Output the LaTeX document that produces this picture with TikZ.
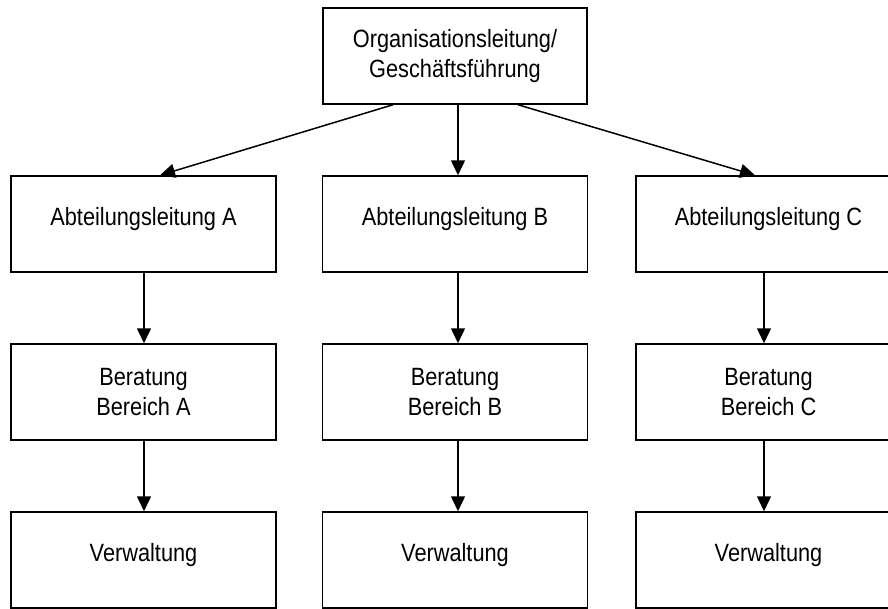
\documentclass[tikz,border=0pt]{standalone}
\usepackage{fontspec}
\setmainfont[FakeStretch=0.87]{Liberation Sans}
\usetikzlibrary{arrows.meta}
\begin{document}
\begin{tikzpicture}[x=1pt,y=-1pt,
  box/.style={draw, line width=1.5pt, minimum width=265pt, minimum height=96pt,
    inner sep=0pt, font=\fontsize{25}{30.7}\selectfont, align=center},
  oneline/.style={text height=10pt, text depth=8pt},
  arr/.style={line width=1.5pt, -{Triangle[length=15pt,width=14pt]}}]
\useasboundingbox (0,0) rectangle (888,608);
\node[box, minimum width=264pt] (top) at (455,56) {Organisationsleitung/\\Geschäftsführung};
\node[box, oneline] (a1) at (143.5,224) {Abteilungsleitung A};
\node[box, oneline] (b1) at (455,224) {Abteilungsleitung B};
\node[box, oneline] (c1) at (768.5,224) {Abteilungsleitung C};
\node[box] (a2) at (143.5,392) {Beratung\\Bereich A};
\node[box] (b2) at (455,392) {Beratung\\Bereich B};
\node[box] (c2) at (768.5,392) {Beratung\\Bereich C};
\node[box, oneline] (a3) at (143.5,560) {Verwaltung};
\node[box, oneline] (b3) at (455,560) {Verwaltung};
\node[box, oneline] (c3) at (768.5,560) {Verwaltung};
\draw[arr] ([xshift=-62pt]top.south) -- ([xshift=16.5pt]a1.north);
\draw[arr] ([xshift=3pt]top.south) -- ([xshift=3pt]b1.north);
\draw[arr] ([xshift=63pt]top.south) -- ([xshift=-13.5pt]c1.north);
\draw[arr] ([xshift=0.5pt]a1.south) -- ([xshift=0.5pt]a2.north);
\draw[arr] ([xshift=3pt]b1.south) -- ([xshift=3pt]b2.north);
\draw[arr] ([xshift=-4.5pt]c1.south) -- ([xshift=-4.5pt]c2.north);
\draw[arr] ([xshift=0.5pt]a2.south) -- ([xshift=0.5pt]a3.north);
\draw[arr] ([xshift=3pt]b2.south) -- ([xshift=3pt]b3.north);
\draw[arr] ([xshift=-4.5pt]c2.south) -- ([xshift=-4.5pt]c3.north);
\end{tikzpicture}
\end{document}
